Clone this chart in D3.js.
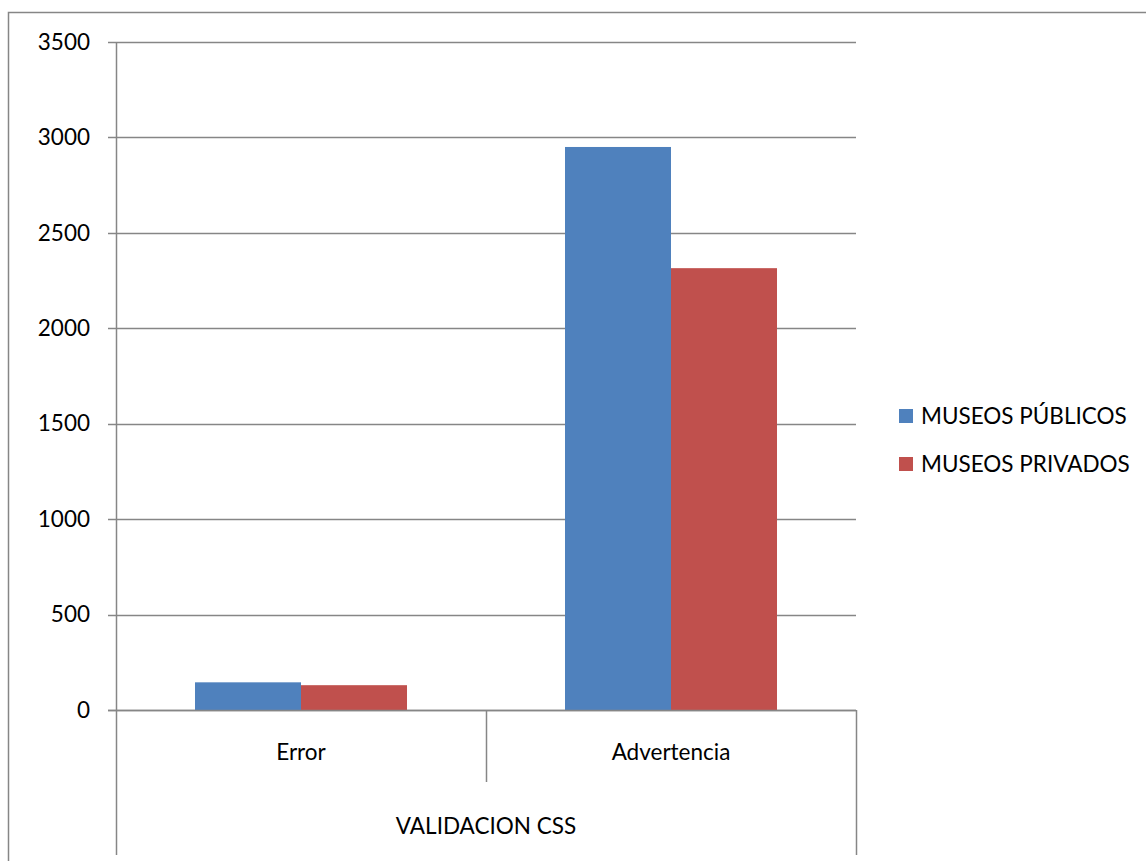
<!DOCTYPE html>
<html><head><meta charset="utf-8">
<script src="https://cdn.jsdelivr.net/npm/d3@7"></script>
<style>body{margin:0;background:#fff}svg{display:block}text{font-family:Lato,"Open Sans",sans-serif;fill:#000}</style>
</head><body><svg id="c" width="1146" height="861"></svg>
<script>
const categories = ["Error", "Advertencia"];
const seriesNames = ["MUSEOS PÚBLICOS", "MUSEOS PRIVADOS"];
const publicos = [145, 2950];
const privados = [130, 2315];
const yTicks = [0, 500, 1000, 1500, 2000, 2500, 3000, 3500];
const groupLabel = "VALIDACION CSS";
const colors = ["#4F81BD", "#C0504D"];

const svg = d3.select("#c");
const L = 116, R = 856, T = 42, B = 710;
const grid = "#868686";
const FS = 22.5;

// outer border
svg.append("rect").attr("x", 8.5).attr("y", 12.5).attr("width", 1150).attr("height", 900)
  .attr("fill", "none").attr("stroke", grid).attr("stroke-width", 1.5);

const y = d3.scaleLinear().domain([0, 3500]).range([B, T]);
const x0 = d3.scaleBand().domain(categories).range([L, R]).paddingInner(0.427).paddingOuter(0.2135);
const x1 = d3.scaleBand().domain(seriesNames).range([0, x0.bandwidth()]);

// gridlines
svg.append("g").selectAll("line").data(yTicks).join("line")
  .attr("x1", L - 8).attr("x2", R).attr("y1", d => Math.round(y(d)) + 0.5).attr("y2", d => Math.round(y(d)) + 0.5)
  .attr("stroke", grid).attr("stroke-width", 1.3);

// y labels
const yAxis = d3.axisLeft(y).tickValues(yTicks).tickFormat(d3.format("d")).tickSize(0).tickPadding(0);
const ya = svg.append("g").attr("transform", `translate(${L - 26},0)`).call(yAxis);
ya.select(".domain").remove();
ya.selectAll("text").attr("font-size", FS).attr("font-family", "Lato").attr("fill", "#000");

// bars
const data = categories.map((c, i) => ({ c, vals: [publicos[i], privados[i]] }));
const g = svg.append("g").selectAll("g").data(data).join("g")
  .attr("transform", d => `translate(${x0(d.c)},0)`);
g.selectAll("rect").data(d => d.vals.map((v, j) => ({ v, j }))).join("rect")
  .attr("x", d => x1(seriesNames[d.j])).attr("width", x1.bandwidth())
  .attr("y", d => y(d.v)).attr("height", d => B - y(d.v))
  .attr("fill", d => colors[d.j]);

// axis line (zero) redraw
svg.append("line").attr("x1", L - 8).attr("x2", R).attr("y1", B + 0.5).attr("y2", B + 0.5).attr("stroke", grid).attr("stroke-width", 1.5);
// vertical y axis line
svg.append("line").attr("x1", L + 0.5).attr("x2", L + 0.5).attr("y1", T).attr("y2", 855).attr("stroke", grid).attr("stroke-width", 1.5);
// category separators
const seps = [x0.step() * 1 + L];
svg.append("g").selectAll("line").data(seps).join("line")
  .attr("x1", d => d + 0.5).attr("x2", d => d + 0.5).attr("y1", B).attr("y2", 782)
  .attr("stroke", grid).attr("stroke-width", 1.5);
svg.append("line").attr("x1", R + 0.5).attr("x2", R + 0.5).attr("y1", B).attr("y2", 855).attr("stroke", grid).attr("stroke-width", 1.5);

// category labels
svg.append("g").selectAll("text").data(categories).join("text")
  .attr("x", d => x0(d) + x0.bandwidth() / 2).attr("y", 760)
  .attr("text-anchor", "middle").attr("font-size", FS).text(d => d);
svg.append("text").attr("x", (L + R) / 2).attr("y", 834).attr("text-anchor", "middle")
  .attr("font-size", FS).text(groupLabel);

// legend
const lg = svg.append("g").selectAll("g").data(seriesNames).join("g")
  .attr("transform", (d, i) => `translate(899,${409 + i * 48})`);
lg.append("rect").attr("width", 14).attr("height", 14).attr("fill", (d, i) => colors[i]);
lg.append("text").attr("x", 22).attr("y", 15).attr("font-size", FS).text(d => d);
</script></body></html>
